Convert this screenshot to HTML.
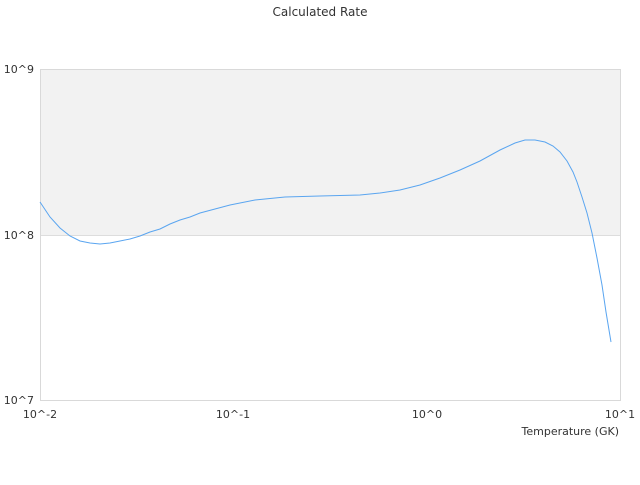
<!DOCTYPE html>
<html><head><style>
body{margin:0;background:#fff;}
svg text{font-family:"DejaVu Sans","Liberation Sans",sans-serif;fill:#333;}
</style></head><body>
<svg width="640" height="480" viewBox="0 0 640 480" xmlns="http://www.w3.org/2000/svg">
<text x="320" y="16" font-size="12" text-anchor="middle">Calculated Rate</text>
<rect x="40.5" y="69.5" width="580" height="166" fill="#f2f2f2"/>
<line x1="40.5" y1="235.5" x2="620.5" y2="235.5" stroke="#dddddd"/>
<rect x="40.5" y="69.5" width="580" height="331" fill="none" stroke="#d9d9d9"/>
<text x="34" y="73" font-size="11" text-anchor="end">10^9</text>
<text x="34" y="239" font-size="11" text-anchor="end">10^8</text>
<text x="34" y="404" font-size="11" text-anchor="end">10^7</text>
<text x="40" y="418" font-size="11" text-anchor="middle">10^-2</text>
<text x="233" y="418" font-size="11" text-anchor="middle">10^-1</text>
<text x="427" y="418" font-size="11" text-anchor="middle">10^0</text>
<text x="620" y="418" font-size="11" text-anchor="middle">10^1</text>
<text x="619" y="435" font-size="11" text-anchor="end">Temperature (GK)</text>
<polyline fill="none" stroke="#5aa5f0" stroke-width="1" points="40,202 50,217 60,228 70,236 80,241 90,243 100,244 110,243 120,241 130,239 140,236 150,232 160,229 170,224 180,220 190,217 200,213 215,209 230,205 255,200 285,197 320,196 360,195 380,193 400,190 420,185 440,178 460,170 480,161 500,150 515,143 525,140 535,140 545,142 553,146 560,152 567,161 573,172 577,182 582,197 587,213 592,233 597,258 602,285 606,312 611,342"/>
</svg>
</body></html>
